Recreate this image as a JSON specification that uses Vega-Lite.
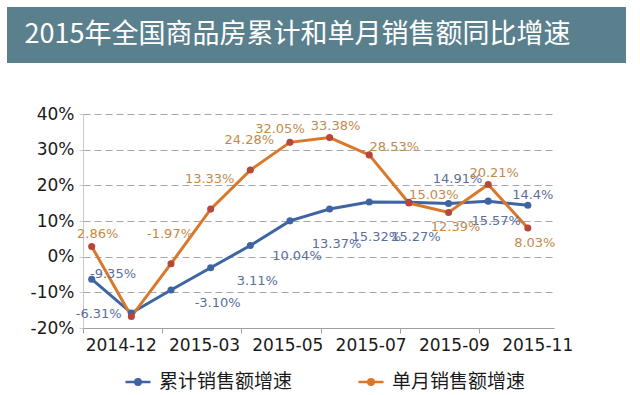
{
  "$schema": "https://vega.github.io/schema/vega-lite/v6.json",
  "background": "#ffffff",
  "padding": {"left": 7, "top": 7, "right": 0, "bottom": 0},
  "config": {
    "locale": {"number": {"decimal": ".", "thousands": ",", "grouping": [3], "currency": ["$", ""], "minus": "-"}},
    "font": "DejaVu Sans"
  },
  "datasets": {
    "banner": [{"title": "2015年全国商品房累计和单月销售额同比增速"}],
    "sales": [
      {"month": "2014-12", "series": "累计销售额增速", "value": -0.0631},
      {"month": "2015-02", "series": "累计销售额增速", "value": -0.158},
      {"month": "2015-03", "series": "累计销售额增速", "value": -0.0935},
      {"month": "2015-04", "series": "累计销售额增速", "value": -0.031},
      {"month": "2015-05", "series": "累计销售额增速", "value": 0.0311},
      {"month": "2015-06", "series": "累计销售额增速", "value": 0.1004},
      {"month": "2015-07", "series": "累计销售额增速", "value": 0.1337},
      {"month": "2015-08", "series": "累计销售额增速", "value": 0.1532},
      {"month": "2015-09", "series": "累计销售额增速", "value": 0.1527},
      {"month": "2015-10", "series": "累计销售额增速", "value": 0.1491},
      {"month": "2015-11", "series": "累计销售额增速", "value": 0.1557},
      {"month": "2015-12", "series": "累计销售额增速", "value": 0.144},
      {"month": "2014-12", "series": "单月销售额增速", "value": 0.0286},
      {"month": "2015-02", "series": "单月销售额增速", "value": -0.168},
      {"month": "2015-03", "series": "单月销售额增速", "value": -0.0197},
      {"month": "2015-04", "series": "单月销售额增速", "value": 0.1333},
      {"month": "2015-05", "series": "单月销售额增速", "value": 0.2428},
      {"month": "2015-06", "series": "单月销售额增速", "value": 0.3205},
      {"month": "2015-07", "series": "单月销售额增速", "value": 0.3338},
      {"month": "2015-08", "series": "单月销售额增速", "value": 0.2853},
      {"month": "2015-09", "series": "单月销售额增速", "value": 0.1503},
      {"month": "2015-10", "series": "单月销售额增速", "value": 0.1239},
      {"month": "2015-11", "series": "单月销售额增速", "value": 0.2021},
      {"month": "2015-12", "series": "单月销售额增速", "value": 0.0803}
    ]
  },
  "columns": 1,
  "align": "none",
  "spacing": 42,
  "concat": [
    {
      "width": 619,
      "height": 56,
      "view": {"fill": "#5b808d", "stroke": null},
      "data": {"name": "banner"},
      "mark": {"type": "text", "color": "#ffffff", "font": "Noto Sans CJK SC", "fontSize": 27, "dx": -19, "baseline": "middle", "align": "center"},
      "encoding": {"text": {"field": "title", "type": "nominal"}}
    },
    {
      "width": 547,
      "height": 214,
      "view": {"stroke": null},
      "data": {"name": "sales"},
      "encoding": {
        "x": {
          "field": "month", "type": "ordinal", "sort": null,
          "scale": {"type": "point", "padding": 0.44, "align": 0.25, "range": [76, 547]},
          "axis": {
            "title": null,
            "values": ["2014-12", "2015-03", "2015-05", "2015-07", "2015-09", "2015-11"],
            "tickOffset": -9, "tickSize": 5, "tickColor": "#a0a0a0", "domainColor": "#a0a0a0",
            "labelFont": "DejaVu Sans", "labelFontSize": 17, "labelColor": "#1a1a1a",
            "labelPadding": 4, "labelAngle": 0, "grid": false, "labelOverlap": false,
            "labelOffset": {"expr": "38 + 20*datum.index"}
          }
        },
        "y": {
          "field": "value", "type": "quantitative",
          "scale": {"domain": [-0.2, 0.4], "nice": false},
          "axis": {
            "title": null, "values": [-0.2, -0.1, 0, 0.1, 0.2, 0.3, 0.4], "format": ".0%",
            "grid": true, "gridDash": [7, 4], "gridColor": "#a6a6a6",
            "domainColor": "#c8c8c8", "tickColor": "#c8c8c8", "tickSize": 4,
            "labelPadding": 5, "labelFont": "DejaVu Sans", "labelFontSize": 17, "labelColor": "#1a1a1a",
            "offset": -76
          }
        }
      },
      "layer": [
        {
          "mark": {"type": "line", "strokeWidth": 3},
          "encoding": {
            "color": {
              "field": "series", "type": "nominal",
              "scale": {"domain": ["累计销售额增速", "单月销售额增速"], "range": ["#3f64a3", "#d9782a"]},
              "legend": {
                "orient": "none", "legendX": 117, "legendY": 361, "direction": "horizontal", "title": null,
                "labelFont": "Noto Sans CJK SC", "labelFontSize": 19, "labelColor": "#1a1a1a", "labelLimit": 300,
                "symbolType": "M-1,0L1,0M0.22,0A0.22,0.22,0,1,1,-0.22,0A0.22,0.22,0,1,1,0.22,0",
                "symbolSize": 625, "symbolStrokeWidth": 2.5, "labelOffset": 7, "columnPadding": 60
              }
            }
          }
        },
        {
          "mark": {"type": "point", "filled": true, "size": 50, "opacity": 1, "strokeWidth": 0},
          "encoding": {
            "fill": {
              "field": "series", "type": "nominal",
              "scale": {"domain": ["累计销售额增速", "单月销售额增速"], "range": ["#3f64a3", "#b8473a"]},
              "legend": null
            }
          }
        },
        {
          "transform": [{"filter": {"and": [{"field": "series", "equal": "累计销售额增速"}, {"field": "month", "oneOf": ["2014-12", "2015-04", "2015-05", "2015-06", "2015-07", "2015-08", "2015-09"]}]}}],
          "mark": {"type": "text", "dx": 7, "dy": 35, "color": "#5a6f9c", "fontSize": 13, "font": "DejaVu Sans"},
          "encoding": {"text": {"field": "value", "type": "quantitative", "format": ".2%"}}
        },
        {
          "transform": [{"filter": {"and": [{"field": "series", "equal": "累计销售额增速"}, {"field": "month", "oneOf": ["2015-03"]}]}}],
          "mark": {"type": "text", "dx": -58, "dy": -16, "color": "#5a6f9c", "fontSize": 13, "font": "DejaVu Sans"},
          "encoding": {"text": {"field": "value", "type": "quantitative", "format": ".2%"}}
        },
        {
          "transform": [{"filter": {"and": [{"field": "series", "equal": "累计销售额增速"}, {"field": "month", "oneOf": ["2015-10"]}]}}],
          "mark": {"type": "text", "dx": 9, "dy": -24, "color": "#5a6f9c", "fontSize": 13, "font": "DejaVu Sans"},
          "encoding": {"text": {"field": "value", "type": "quantitative", "format": ".2%"}}
        },
        {
          "transform": [{"filter": {"and": [{"field": "series", "equal": "累计销售额增速"}, {"field": "month", "oneOf": ["2015-11"]}]}}],
          "mark": {"type": "text", "dx": 8, "dy": 20, "color": "#5a6f9c", "fontSize": 13, "font": "DejaVu Sans"},
          "encoding": {"text": {"field": "value", "type": "quantitative", "format": ".2%"}}
        },
        {
          "transform": [{"filter": {"and": [{"field": "series", "equal": "累计销售额增速"}, {"field": "month", "oneOf": ["2015-12"]}]}}],
          "mark": {"type": "text", "dx": 5, "dy": -10, "color": "#5a6f9c", "fontSize": 13, "font": "DejaVu Sans"},
          "encoding": {"text": {"field": "value", "type": "quantitative", "format": ".1%"}}
        },
        {
          "transform": [{"filter": {"and": [{"field": "series", "equal": "单月销售额增速"}, {"field": "month", "oneOf": ["2014-12", "2015-07", "2015-11"]}]}}],
          "mark": {"type": "text", "dx": 6, "dy": -12, "color": "#c48a4a", "fontSize": 13, "font": "DejaVu Sans"},
          "encoding": {"text": {"field": "value", "type": "quantitative", "format": ".2%"}}
        },
        {
          "transform": [{"filter": {"and": [{"field": "series", "equal": "单月销售额增速"}, {"field": "month", "oneOf": ["2015-03", "2015-04", "2015-05"]}]}}],
          "mark": {"type": "text", "dx": -1, "dy": -30, "color": "#c48a4a", "fontSize": 13, "font": "DejaVu Sans"},
          "encoding": {"text": {"field": "value", "type": "quantitative", "format": ".2%"}}
        },
        {
          "transform": [{"filter": {"and": [{"field": "series", "equal": "单月销售额增速"}, {"field": "month", "oneOf": ["2015-06"]}]}}],
          "mark": {"type": "text", "dx": -10, "dy": -13, "color": "#c48a4a", "fontSize": 13, "font": "DejaVu Sans"},
          "encoding": {"text": {"field": "value", "type": "quantitative", "format": ".2%"}}
        },
        {
          "transform": [{"filter": {"and": [{"field": "series", "equal": "单月销售额增速"}, {"field": "month", "oneOf": ["2015-08", "2015-09"]}]}}],
          "mark": {"type": "text", "dx": 25, "dy": -8, "color": "#c48a4a", "fontSize": 13, "font": "DejaVu Sans"},
          "encoding": {"text": {"field": "value", "type": "quantitative", "format": ".2%"}}
        },
        {
          "transform": [{"filter": {"and": [{"field": "series", "equal": "单月销售额增速"}, {"field": "month", "oneOf": ["2015-10", "2015-12"]}]}}],
          "mark": {"type": "text", "dx": 7, "dy": 15, "color": "#c48a4a", "fontSize": 13, "font": "DejaVu Sans"},
          "encoding": {"text": {"field": "value", "type": "quantitative", "format": ".2%"}}
        }
      ]
    }
  ]
}
